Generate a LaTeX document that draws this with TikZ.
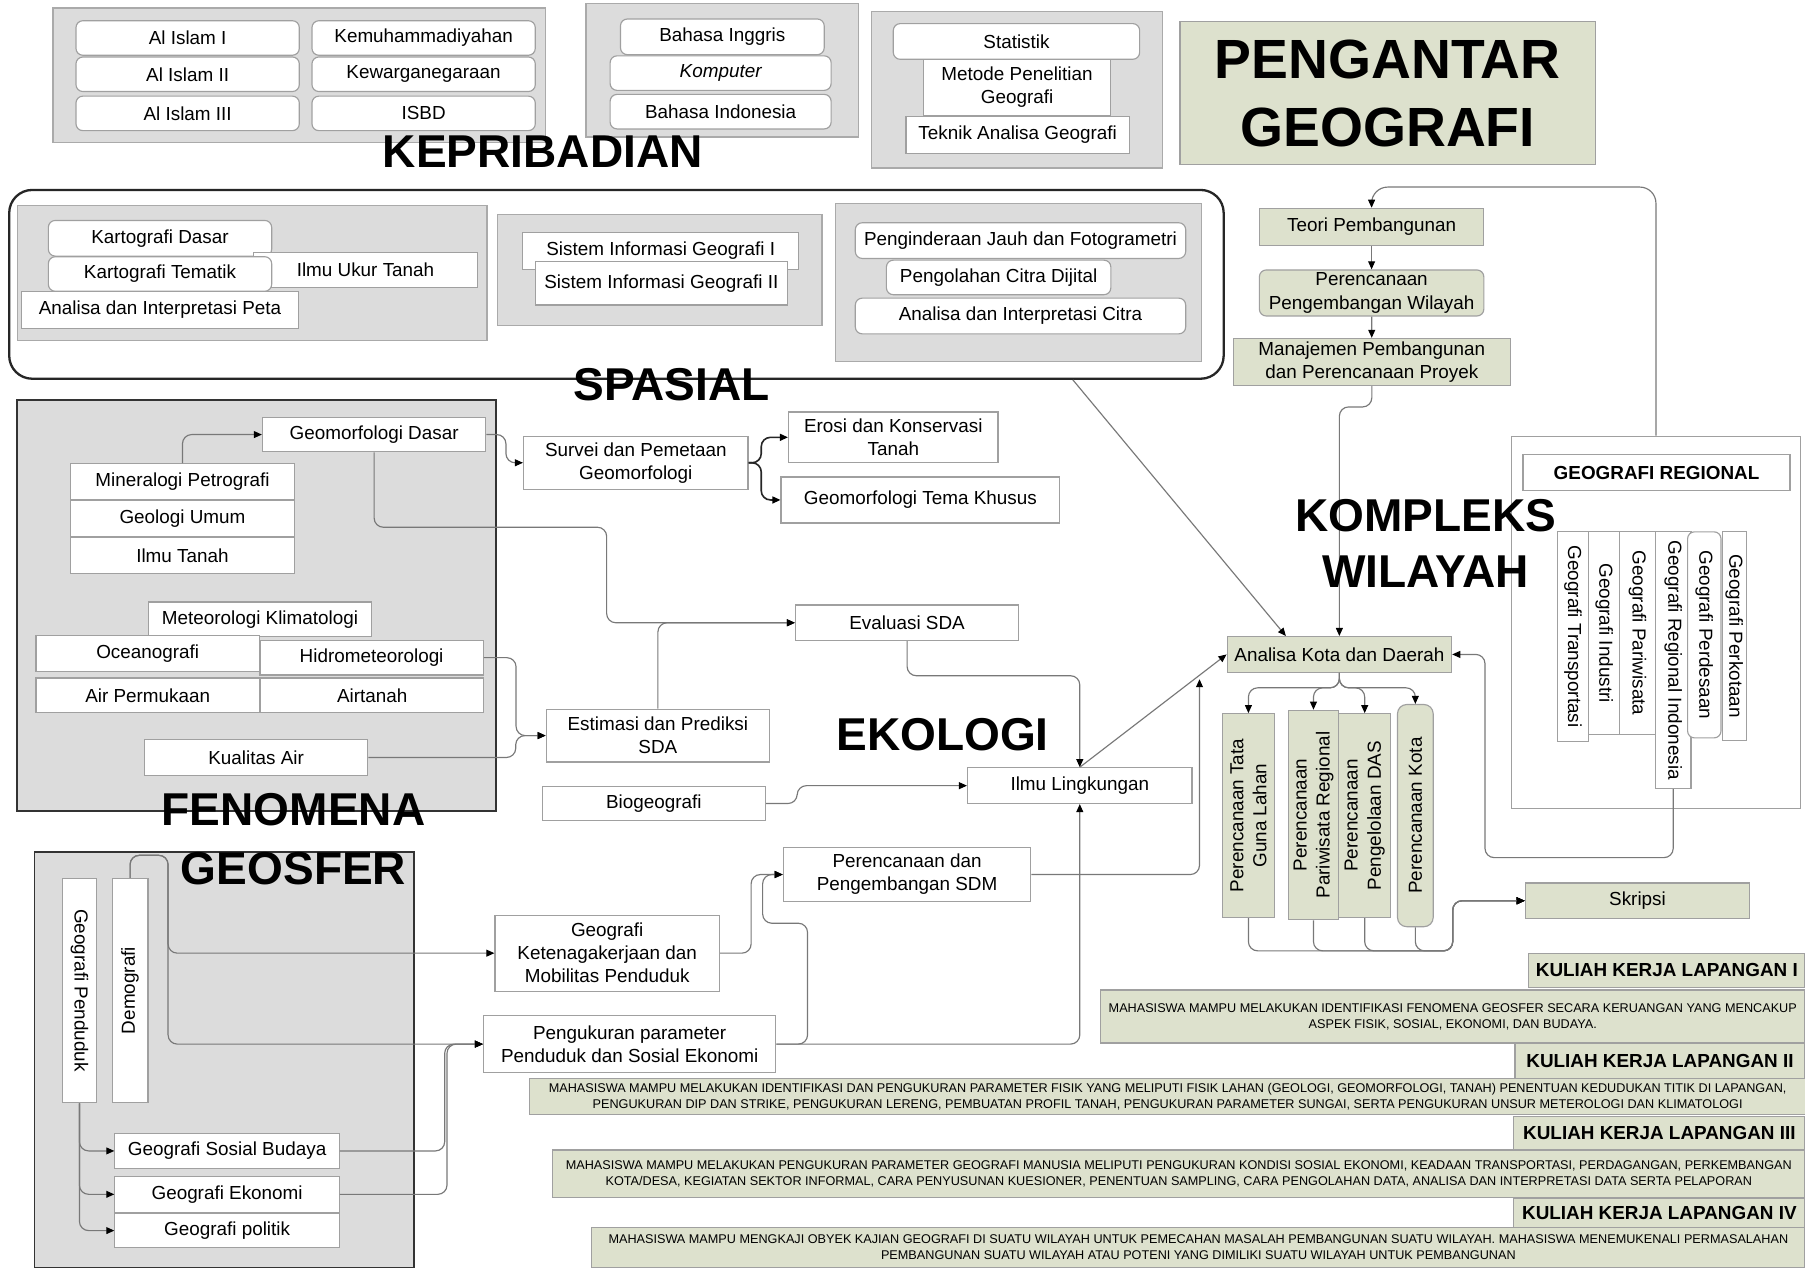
\documentclass[tikz,border=0pt]{standalone}
\usepackage{fontspec}
\setmainfont{Liberation Sans}
\usetikzlibrary{arrows.meta, positioning}

\definecolor{panelgray}{RGB}{220,220,220}
\definecolor{panelline}{RGB}{170,170,170}
\definecolor{boxline}{RGB}{160,160,160}
\definecolor{greenfill}{RGB}{221,225,205}
\definecolor{linegray}{RGB}{120,120,120}

\newcommand{\bxfont}{\fontsize{16.4}{20}\selectfont}
\newcommand{\ttlfont}{\fontsize{40}{49}\selectfont\bfseries}
\newcommand{\descfont}{\fontsize{11}{14}\selectfont}

\begin{document}
\begin{tikzpicture}[
        x=1pt, y=-1pt,
        panel/.style={draw=panelline, fill=panelgray, line width=1pt, inner sep=0pt},
        darkpanel/.style={draw=black!80, fill=panelgray, line width=1.6pt, inner sep=0pt},
        box/.style={draw=boxline, fill=white, line width=1pt, inner sep=0pt, align=center, font=\bxfont, minimum width=194pt, minimum height=30pt},
        rbox/.style={box, rounded corners=6pt},
        gbox/.style={box, fill=greenfill},
        desc/.style={box, fill=greenfill, font=\descfont},
        bigtitle/.style={inner sep=0pt, align=center, font=\ttlfont},
        link/.style={draw=linegray, line width=1pt, rounded corners=8pt, -{Triangle[length=7pt, width=6pt, color=black]}},
        darklink/.style={link, draw=black!85, line width=1.4pt},
        node distance=0pt
    ]

    \tikzstyle{kkl} = [gbox, font=\bxfont\bfseries]

    \useasboundingbox (0,0) rectangle (1568,1101);
    \fill[white] (0,0) rectangle (1568,1101);

    \node[panel, minimum width=428pt, minimum height=117pt] (kepA) at (260,65.5) {};
    \node[rbox] (islamA) at (163,33) {Al Islam I};
    \node[rbox] (kemuh) at (368,33) {Kemuhammadiyahan};
    \node[rbox] (islamB) at (163,64.5) {Al Islam II};
    \node[rbox] (kewarga) at (368,64.5) {Kewarganegaraan};
    \node[rbox] (islamC) at (163,98.5) {Al Islam III};
    \node[rbox] (isbd) at (368,98.5) {ISBD};

    \node[panel, minimum width=237pt, minimum height=116pt] (kepB) at (627.5,61) {};
    \node[rbox, minimum width=177pt, minimum height=31pt] (inggris) at (627.5,32) {Bahasa Inggris};
    \node[rbox, minimum width=192pt] (komputer) at (626,63.5) {\itshape Komputer};
    \node[rbox, minimum width=192pt] (indonesia) at (626,97) {Bahasa Indonesia};

    \node[panel, minimum width=253pt, minimum height=136pt] (kepC) at (883.5,78) {};
    \node[rbox, minimum width=214pt, minimum height=31pt] (statistik) at (883,36) {Statistik};
    \node[box, minimum width=163pt, minimum height=48pt] (metode) at (883.5,76) {Metode Penelitian\\Geografi};
    \node[box, minimum height=32pt] (teknik) at (884,117) {Teknik Analisa Geografi};

    \node[gbox, minimum width=361pt, minimum height=124pt, font=\fontsize{48}{59}\selectfont\bfseries] (pengantar) at (1205.5,81) {PENGANTAR\\GEOGRAFI};

    \draw[black!85, line width=2pt, rounded corners=20pt] (8,165) rectangle (1063,329);
    \node[panel, minimum width=408pt, minimum height=117pt] (spA) at (219,237) {};
    \node[rbox, minimum height=31pt] (kartoDasar) at (139,207) {Kartografi Dasar};
    \node[box] (ukurTanah) at (317.5,234.5) {Ilmu Ukur Tanah};
    \node[rbox] (kartoTematik) at (139,238) {Kartografi Tematik};
    \node[box, minimum width=240pt, minimum height=32pt] (analisaPeta) at (139,269) {Analisa dan Interpretasi Peta};
    \node[panel, minimum width=282pt, minimum height=97pt] (spB) at (573,234.5) {};
    \node[box, minimum width=240pt, minimum height=32pt] (sigA) at (574,218) {Sistem Informasi Geografi I};
    \node[box, minimum width=219pt, minimum height=38pt] (sigB) at (574.5,246) {Sistem Informasi Geografi II};
    \node[panel, minimum width=318pt, minimum height=137pt] (spC) at (884.6,245.3) {};
    \node[rbox, minimum width=287pt, minimum height=31pt] (inderaja) at (886.5,209) {Penginderaan Jauh dan Fotogrametri};
    \node[rbox, minimum width=195pt] (citraDijital) at (867.5,241) {Pengolahan Citra Dijital};
    \node[rbox, minimum width=287pt, minimum height=31pt] (citraAnalisa) at (886.5,274.5) {Analisa dan Interpretasi Citra};

    \node[darkpanel, minimum width=416pt, minimum height=357pt] (fenA) at (222.6,526.2) {};
    \node[box] (geoDasar) at (325,377.5) {Geomorfologi Dasar};
    \node[box, minimum height=31pt] (mineral) at (158.5,418.3) {Mineralogi Petrografi};
    \node[box, minimum height=31pt, below=of mineral] (geologi) {Geologi Umum};
    \node[box, minimum height=31pt] (ilmuTanah) at (158.5,482.4) {Ilmu Tanah};
    \node[box] (meteo) at (225.8,538) {Meteorologi Klimatologi};
    \node[box, minimum height=31pt] (oceano) at (128.3,567.5) {Oceanografi};
    \node[box] (hidro) at (322.8,571.3) {Hidrometeorologi};
    \node[box] (airPermukaan) at (128.3,604) {Air Permukaan};
    \node[box, right=of airPermukaan] (airtanah) {Airtanah};
    \node[box, minimum height=31pt] (kualitas) at (222.5,658) {Kualitas Air};

    \node[darkpanel, minimum width=330pt, minimum height=361pt] (pendA) at (195,920.5) {};
    \node[box, rotate=-90, minimum width=195pt] (penduduk) at (69,860.5) {Geografi Penduduk};
    \node[box, rotate=90, minimum width=195pt, minimum height=31pt] (demografi) at (113,860.5) {Demografi};
    \node[box, minimum width=195pt, minimum height=31pt] (sosbud) at (197.3,999.8) {Geografi Sosial Budaya};
    \node[box, minimum width=195pt, minimum height=31pt] (ekonomi) at (197.3,1037.5) {Geografi Ekonomi};
    \node[box, minimum width=195pt, below=of ekonomi] (politik) {Geografi politik};

    \node[box, minimum width=195pt, minimum height=46pt] (survei) at (552.3,402) {Survei dan Pemetaan\\Geomorfologi};
    \node[box, minimum width=182pt, minimum height=44pt] (erosi) at (776,379.9) {Erosi dan Konservasi\\Tanah};
    \node[box, minimum width=242pt, minimum height=40pt] (temaKhusus) at (799.5,434.3) {Geomorfologi Tema Khusus};
    \node[box, minimum height=31pt] (evaluasi) at (788,541) {Evaluasi SDA};
    \node[box, minimum height=46pt] (estimasi) at (571.5,639) {Estimasi dan Prediksi\\SDA};
    \node[box] (biogeo) at (568,698) {Biogeografi};
    \node[box, minimum width=195pt, minimum height=31pt] (lingkungan) at (938,682.5) {Ilmu Lingkungan};
    \node[box, minimum width=215pt, minimum height=47pt] (sdm) at (788,759.7) {Perencanaan dan\\Pengembangan SDM};
    \node[box, minimum width=195pt, minimum height=66pt] (kerja) at (527.5,828) {Geografi\\Ketenagakerjaan dan\\Mobilitas Penduduk};
    \node[box, minimum width=254pt, minimum height=50pt] (pengukuran) at (547,907) {Pengukuran parameter\\Penduduk dan Sosial Ekonomi};

    \node[gbox, minimum width=195pt, minimum height=32pt] (teori) at (1191.5,197) {Teori Pembangunan};
    \node[gbox, rounded corners=6pt, minimum width=195pt, minimum height=40pt] (ppw) at (1191.5,254.5) {Perencanaan\\Pengembangan Wilayah};
    \node[gbox, minimum width=241pt, minimum height=41pt] (manajemen) at (1191.7,314.5) {Manajemen Pembangunan\\dan Perencanaan Proyek};

    \node[box, minimum width=251pt, minimum height=323pt] (regional) at (1438.5,540.5) {};
    \node[box, minimum width=232pt, minimum height=31pt, font=\bxfont\bfseries] (regionalHead) at (1439,410.5) {GEOGRAFI REGIONAL};
    \node[box, rotate=-90, minimum width=182pt, minimum height=27pt] (transportasi) at (1366.5,553) {Geografi Transportasi};
    \node[box, rotate=-90, minimum width=176pt, minimum height=27pt] (industri) at (1393.5,550) {Geografi Industri};
    \node[box, rotate=-90, minimum width=176pt, minimum height=31pt] (pariwisata) at (1422.5,550) {Geografi Pariwisata};
    \node[box, rotate=-90, minimum width=223pt, minimum height=31pt] (regIndonesia) at (1453.5,573.5) {Geografi Regional Indonesia};
    \node[rbox, rotate=-90, minimum width=179pt, minimum height=29pt] (perdesaan) at (1480.5,551.5) {Geografi Perdesaan};
    \node[box, rotate=-90, minimum width=181pt, minimum height=21pt] (perkotaan) at (1506.5,552.5) {Geografi Perkotaan};

    \node[gbox, minimum width=195pt, minimum height=31pt] (analisa) at (1163.5,568.5) {Analisa Kota dan Daerah};
    \node[gbox, rotate=90, minimum width=177pt, minimum height=45pt] (tataGuna) at (1084.5,708.5) {Perencanaan Tata\\Guna Lahan};
    \node[gbox, rotate=90, minimum width=182pt, minimum height=44pt] (pariwisataReg) at (1141,708) {Perencanaan\\Pariwisata Regional};
    \node[gbox, rotate=90, minimum width=177pt, minimum height=45pt] (das) at (1185.5,708.5) {Perencanaan\\Pengelolaan DAS};
    \node[gbox, rounded corners=8pt, rotate=90, minimum width=193pt, minimum height=31pt] (kota) at (1229.5,708.5) {Perencanaan Kota};
    \node[gbox, minimum width=195pt, minimum height=31pt] (skripsi) at (1422.5,782.5) {Skripsi};

    \node[kkl, minimum width=240pt, minimum height=30pt] (kklA) at (1448,843) {KULIAH KERJA LAPANGAN I};
    \node[desc, minimum width=612pt, minimum height=46pt] (descA) at (1262,883) {MAHASISWA MAMPU MELAKUKAN IDENTIFIKASI FENOMENA GEOSFER SECARA KERUANGAN YANG MENCAKUP\\ASPEK FISIK, SOSIAL, EKONOMI, DAN BUDAYA.};
    \node[kkl, minimum width=252pt, minimum height=31pt] (kklB) at (1442,921.5) {KULIAH KERJA LAPANGAN II};
    \node[desc, minimum width=1108pt, minimum height=31pt] (descB) at (1014.3,952.5) {MAHASISWA MAMPU MELAKUKAN IDENTIFIKASI DAN PENGUKURAN PARAMETER FISIK YANG MELIPUTI FISIK LAHAN (GEOLOGI, GEOMORFOLOGI, TANAH) PENENTUAN KEDUDUKAN TITIK DI LAPANGAN,\\PENGUKURAN DIP DAN STRIKE, PENGUKURAN LERENG, PEMBUATAN PROFIL TANAH, PENGUKURAN PARAMETER SUNGAI, SERTA PENGUKURAN UNSUR METEROLOGI DAN KLIMATOLOGI};
    \node[kkl, minimum width=253pt, minimum height=29pt] (kklC) at (1441.5,984.5) {KULIAH KERJA LAPANGAN III};
    \node[desc, minimum width=1088pt, minimum height=41pt] (descC) at (1024,1019.5) {MAHASISWA MAMPU MELAKUKAN PENGUKURAN PARAMETER GEOGRAFI MANUSIA MELIPUTI PENGUKURAN KONDISI SOSIAL EKONOMI, KEADAAN TRANSPORTASI, PERDAGANGAN, PERKEMBANGAN\\KOTA/DESA, KEGIATAN SEKTOR INFORMAL, CARA PENYUSUNAN KUESIONER, PENENTUAN SAMPLING, CARA PENGOLAHAN DATA, ANALISA DAN INTERPRETASI DATA SERTA PELAPORAN};
    \node[kkl, minimum width=253pt, minimum height=25pt] (kklD) at (1441.5,1053.5) {KULIAH KERJA LAPANGAN IV};
    \node[desc, minimum width=1054pt, minimum height=35pt] (descD) at (1041,1083.5) {MAHASISWA MAMPU MENGKAJI OBYEK KAJIAN GEOGRAFI DI SUATU WILAYAH UNTUK PEMECAHAN MASALAH PEMBANGUNAN SUATU WILAYAH. MAHASISWA MENEMUKENALI PERMASALAHAN\\PEMBANGUNAN SUATU WILAYAH ATAU POTENI YANG DIMILIKI SUATU WILAYAH UNTUK PEMBANGUNAN};

    \draw[link] (mineral.north) |- (geoDasar.west);
    \draw[link] (geoDasar.east) -- ++(17,0) |- (survei.west);
    \draw[darklink] (survei.east) -- ++(11,0) |- (erosi.west);
    \draw[darklink] (survei.east) -- ++(11,0) |- (temaKhusus.west);
    \draw[link] (geoDasar.south) |- (527,458) |- (evaluasi.west);
    \draw[link] (estimasi.north) |- (evaluasi.west);
    \draw[link] (hidro.east) -- ++(28,0) |- (estimasi.west);
    \draw[link] (kualitas.east) -- ++(128,0) |- (estimasi.west);
    \draw[link] (evaluasi.south) -- ++(0,30) -| (lingkungan.north);
    \draw[link] (biogeo.east) -- ++(27,0) |- (lingkungan.west);
    \draw[link, rounded corners=0pt] (lingkungan.north) -- (analisa.west);
    \coordinate (spasialFoot) at (932,330);
    \draw[link] (spasialFoot) -- (analisa.161);
    \coordinate (sdmEnd) at (1042,590);
    \draw[link] (sdm.east) -| (sdmEnd);
    \draw[link] (manajemen.south) -- ++(0,18) -| (analisa.north);
    \draw[link, rounded corners=14pt] (regional.north) -- ++(0,-216) -| (teori.north);
    \draw[link] (teori) -- (ppw);
    \draw[link] (ppw) -- (manajemen);
    \foreach \t in {tataGuna, pariwisataReg, das, kota}
        \draw[link] (analisa.south) -- ++(0,13) -| (\t.east);
    \draw[link] (regIndonesia.east) |- (1290,745) |- (analisa.east);
    \foreach \t in {tataGuna, pariwisataReg, das, kota}
        \draw[link] (\t.west) |- (1262,826) |- (skripsi.west);
    \draw[link] (pengukuran.east) -| (lingkungan.south);
    \draw[link] (pengukuran.east) -- ++(27,0) |- ++(-39,-105) |- (sdm.west);
    \draw[link] (kerja.east) -- ++(27,0) |- (sdm.west);
    \draw[link] (demografi.east) |- (146,743) |- (kerja.west);
    \draw[link] (demografi.east) |- (146,743) |- (pengukuran.west);
    \draw[link] (sosbud.east) -- ++(91,0) |- (pengukuran.west);
    \draw[link] (ekonomi.east) -- ++(93,0) |- (pengukuran.west);
    \foreach \t in {sosbud, ekonomi, politik}
        \draw[link] (penduduk.east) |- (\t.west);

    \node[bigtitle] (kepribadianT) at (471.5,131.5) {KEPRIBADIAN};
    \node[bigtitle] (spasialT) at (583.5,334) {SPASIAL};
    \node[bigtitle, font=\fontsize{40}{52}\selectfont\bfseries] (fenomenaT) at (255,729) {FENOMENA\\GEOSFER};
    \node[bigtitle] (ekologiT) at (818.8,637.8) {EKOLOGI};
    \node[bigtitle] (kompleksT) at (1238.5,472) {KOMPLEKS\\WILAYAH};

\end{tikzpicture}
\end{document}
